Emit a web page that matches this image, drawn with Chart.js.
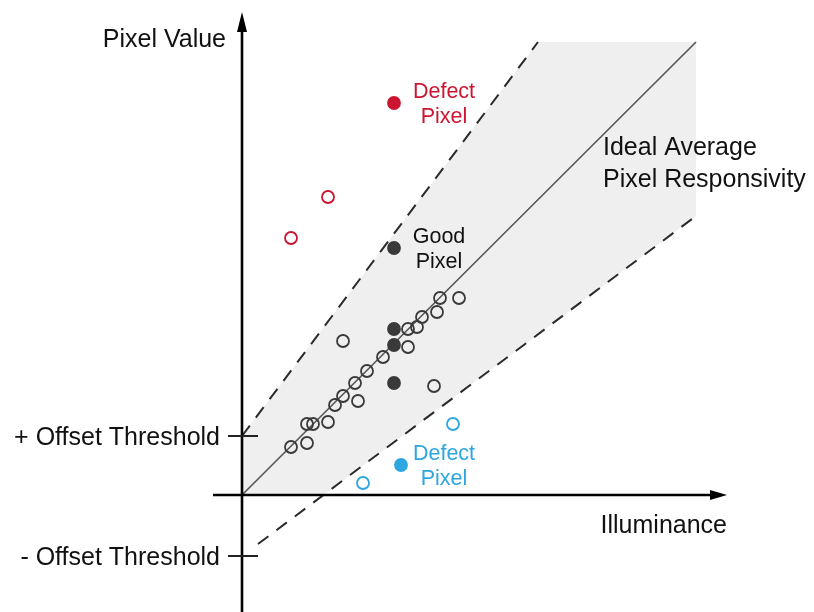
<!DOCTYPE html>
<html>
<head>
<meta charset="utf-8">
<script src="https://cdn.jsdelivr.net/npm/chart.js@4"></script>
<style>
  html, body { margin: 0; padding: 0; background: #fff; }
  canvas { display: block; }
</style>
</head>
<body>
<canvas id="pixelChart" width="814" height="612"></canvas>
<script>
// values (x = illuminance, y = pixel value, arbitrary units)
const goodOpenX = [49, 65, 65, 71, 86, 93, 101, 116, 113, 125, 141, 101, 166, 166, 175, 180, 195, 198, 217, 192];
const goodOpenY = [48, 52, 71, 71, 73, 90, 99, 94, 112, 124, 138, 154, 148, 166, 168, 178, 183, 197, 197, 109];
const goodFilledX = [152, 152, 152, 152];
const goodFilledY = [166, 150, 112, 247];
const hotOpenX = [86, 49];
const hotOpenY = [298, 257];
const hotFilledX = [152];
const hotFilledY = [392];
const coldOpenX = [211, 121];
const coldOpenY = [71, 12];
const coldFilledX = [159];
const coldFilledY = [30];

const offsetPlus = 59;
const offsetMinus = -61;
const idealX = [0, 454];
const idealY = [0, 453];
const upperX = [0, 296];
const upperY = [offsetPlus, 453];
const lowerX = [16, 454];
const lowerY = [-49, 279];
const bandX = [0, 0, 296, 454, 454, 82, 0];
const bandY = [0, offsetPlus, 453, 453, 279, 0, 0];

const xAxisRange = [-29, 485];
const yAxisRange = [-117, 483];

const FONT = '"Liberation Sans", Arial, Helvetica, sans-serif';
const GREY = '#3a3a3a';
const RED = '#cc1530';
const BLUE = '#2ea6df';

const pts = (xs, ys) => xs.map((x, i) => ({ x: x, y: ys[i] }));

function scatterSet(xs, ys, color, filled) {
    return {
        type: 'scatter',
        data: pts(xs, ys),
        pointStyle: 'circle',
        pointRadius: 6,
        pointHoverRadius: 6,
        pointBorderWidth: 1.8,
        pointBorderColor: color,
        pointBackgroundColor: filled ? color : 'rgba(255,255,255,0)',
        showLine: false,
        order: 1
    };
}

// axes, ticks, arrows and text
const overlay = {
    id: 'overlay',
    afterDatasetsDraw(chart) {
        const ctx = chart.ctx;
        const xs = chart.scales.x, ys = chart.scales.y;
        const ox = xs.getPixelForValue(0), oy = ys.getPixelForValue(0);
        ctx.save();
        ctx.strokeStyle = '#000';
        ctx.fillStyle = '#000';
        ctx.lineWidth = 2.6;

        // y axis
        const yTop = ys.getPixelForValue(yAxisRange[1]);
        ctx.beginPath();
        ctx.moveTo(ox, ys.getPixelForValue(yAxisRange[0]));
        ctx.lineTo(ox, yTop + 14);
        ctx.stroke();
        ctx.beginPath();
        ctx.moveTo(ox, yTop);
        ctx.lineTo(ox - 5, yTop + 20);
        ctx.lineTo(ox + 5, yTop + 20);
        ctx.closePath();
        ctx.fill();

        // x axis
        const xEnd = xs.getPixelForValue(xAxisRange[1]);
        ctx.beginPath();
        ctx.moveTo(xs.getPixelForValue(xAxisRange[0]), oy);
        ctx.lineTo(xEnd - 12, oy);
        ctx.stroke();
        ctx.beginPath();
        ctx.moveTo(xEnd, oy);
        ctx.lineTo(xEnd - 17, oy - 5);
        ctx.lineTo(xEnd - 17, oy + 5);
        ctx.closePath();
        ctx.fill();

        // threshold ticks
        ctx.lineWidth = 2;
        ctx.strokeStyle = '#222';
        [offsetPlus, offsetMinus].forEach(v => {
            const py = ys.getPixelForValue(v);
            ctx.beginPath();
            ctx.moveTo(ox - 14, py);
            ctx.lineTo(ox + 16, py);
            ctx.stroke();
        });

        ctx.font = '25px ' + FONT;
        ctx.textBaseline = 'alphabetic';
        ctx.fillStyle = '#111';
        ctx.textAlign = 'right';
        ctx.fillText('+ Offset Threshold', ox - 22, ys.getPixelForValue(offsetPlus) + 9);
        ctx.fillText('- Offset Threshold', ox - 22, ys.getPixelForValue(offsetMinus) + 9);
        ctx.fillText('Pixel Value', ox - 16, 47);
        ctx.fillText('Illuminance', xEnd, oy + 38);
        ctx.textAlign = 'left';
        ctx.fillText('Ideal Average', 603, 155);
        ctx.fillText('Pixel Responsivity', 603, 187);

        ctx.font = '21.5px ' + FONT;
        ctx.textAlign = 'center';
        ctx.fillStyle = RED;
        ctx.fillText('Defect', 444, 98);
        ctx.fillText('Pixel', 444, 123);
        ctx.fillStyle = '#111';
        ctx.fillText('Good', 439, 243);
        ctx.fillText('Pixel', 439, 268);
        ctx.fillStyle = BLUE;
        ctx.fillText('Defect', 444, 460);
        ctx.fillText('Pixel', 444, 485);
        ctx.restore();
    }
};

const ctx = document.getElementById('pixelChart').getContext('2d');
const pixelChart = new Chart(ctx, {
    type: 'scatter',
    data: {
        datasets: [
            scatterSet(goodOpenX, goodOpenY, GREY, false),
            scatterSet(goodFilledX, goodFilledY, GREY, true),
            scatterSet(hotOpenX, hotOpenY, RED, false),
            scatterSet(hotFilledX, hotFilledY, RED, true),
            scatterSet(coldOpenX, coldOpenY, BLUE, false),
            scatterSet(coldFilledX, coldFilledY, BLUE, true),
            {
                type: 'line',
                data: pts(idealX, idealY),
                borderColor: '#555',
                borderWidth: 1.6,
                pointRadius: 0,
                fill: false,
                order: 5
            },
            {
                type: 'line',
                data: pts(upperX, upperY),
                borderColor: '#2a2a2a',
                borderWidth: 2,
                borderDash: [13, 10],
                pointRadius: 0,
                fill: false,
                order: 5
            },
            {
                type: 'line',
                data: pts(lowerX, lowerY),
                borderColor: '#2a2a2a',
                borderWidth: 2,
                borderDash: [13, 10],
                pointRadius: 0,
                fill: false,
                order: 5
            },
            {
                type: 'line',
                data: pts(bandX, bandY),
                borderWidth: 0,
                borderColor: 'rgba(0,0,0,0)',
                backgroundColor: '#efefef',
                pointRadius: 0,
                fill: 'shape',
                order: 10
            }
        ]
    },
    options: {
        responsive: false,
        animation: false,
        layout: { padding: 0, autoPadding: false },
        plugins: {
            legend: { display: false },
            tooltip: { enabled: false },
            title: { display: false }
        },
        scales: {
            x: { type: 'linear', min: -242, max: 572, display: false },
            y: { type: 'linear', min: -117, max: 495, display: false }
        }
    },
    plugins: [overlay]
});
</script>
</body>
</html>
